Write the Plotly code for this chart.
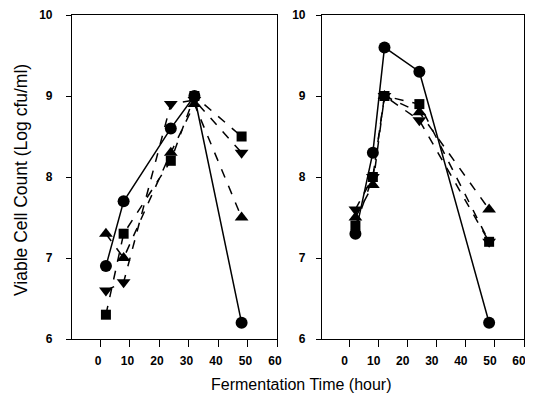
import plotly.graph_objects as go

# Left panel data
left_time = [2, 8, 24, 32, 48]
left_circle = [6.9, 7.7, 8.6, 9.0, 6.2]
left_square = [6.3, 7.3, 8.2, 9.0, 8.5]
left_tri_up = [7.3, 7.0, 8.3, 8.9, 7.5]
left_tri_down = [6.6, 6.7, 8.9, 8.95, 8.3]

# Right panel data
right_time = [2, 8, 12, 24, 48]
right_circle = [7.3, 8.3, 9.6, 9.3, 6.2]
right_square = [7.4, 8.0, 9.0, 8.9, 7.2]
right_tri_up = [7.5, 7.9, 9.0, 8.8, 7.6]
right_tri_down = [7.6, 8.0, 9.0, 8.7, 7.2]

x_ticks = [0, 10, 20, 30, 40, 50, 60]
y_ticks = [6, 7, 8, 9, 10]

# page body has an 8px default margin; lay out relative to that offset
OFF = 8
W, H = 533 - OFF, 420 - 2 * OFF


def px(x):
    return (x - OFF) / W


def py(y):
    return 1 - (y - OFF) / H


fig = go.Figure()

series = [
    ("circle", "solid", 12),
    ("square", "dash", 10),
    ("triangle-up", "dash", 12),
    ("triangle-down", "dash", 12),
]

for (xa, ya, t, vals) in [
    ("x", "y", left_time, [left_circle, left_square, left_tri_up, left_tri_down]),
    ("x2", "y2", right_time, [right_circle, right_square, right_tri_up, right_tri_down]),
]:
    for (sym, dash, sz), v in zip(series, vals):
        fig.add_trace(go.Scatter(
            x=t, y=v, xaxis=xa, yaxis=ya, mode="lines+markers",
            line=dict(color="black", width=1.5, dash=dash),
            marker=dict(symbol=sym, size=sz, color="black"),
            showlegend=False,
        ))

FONT = "Liberation Sans, Arial, sans-serif"
tickfont = dict(family=FONT, size=12, color="black", weight="bold")


def xax(dom, anchor, shift):
    return dict(domain=dom, anchor=anchor, range=[-9.5, 60], tickvals=x_ticks,
                ticks="outside", ticklen=7, tickwidth=1.2, tickcolor="black",
                ticklabelstandoff=3, ticklabelshift=shift, ticklabeloverflow="allow",
                showline=True, linecolor="black", linewidth=1.2, mirror=True,
                showgrid=False, zeroline=False, tickfont=tickfont)


def yax(anchor, standoff):
    return dict(domain=[py(339), py(15)], anchor=anchor, range=[6, 10], tickvals=y_ticks,
                ticks="outside", ticklen=5, tickwidth=1.2, tickcolor="black",
                ticklabelstandoff=standoff, ticklabeloverflow="allow",
                showline=True, linecolor="black", linewidth=1.2, mirror=True,
                showgrid=False, zeroline=False, tickfont=tickfont)


fig.update_layout(
    width=W, height=H,
    margin=dict(l=0, r=0, t=0, b=0, autoexpand=False),
    paper_bgcolor="white", plot_bgcolor="white",
    xaxis=xax([px(72), px(277)], "y", -2),
    yaxis=yax("x", 11),
    xaxis2=xax([px(322), px(524)], "y2", -5),
    yaxis2=yax("x2", 8),
    annotations=[
        dict(text="Fermentation Time (hour)", x=px(301), y=py(384),
             xref="paper", yref="paper", showarrow=False,
             xanchor="center", yanchor="middle",
             font=dict(family=FONT, size=16, color="black")),
        dict(text="Viable Cell Count (Log cfu/ml)", x=px(21), y=py(180),
             xref="paper", yref="paper", showarrow=False, textangle=-90,
             xanchor="center", yanchor="middle",
             font=dict(family=FONT, size=17.5, color="black")),
    ],
)

fig.write_html("out.html")
